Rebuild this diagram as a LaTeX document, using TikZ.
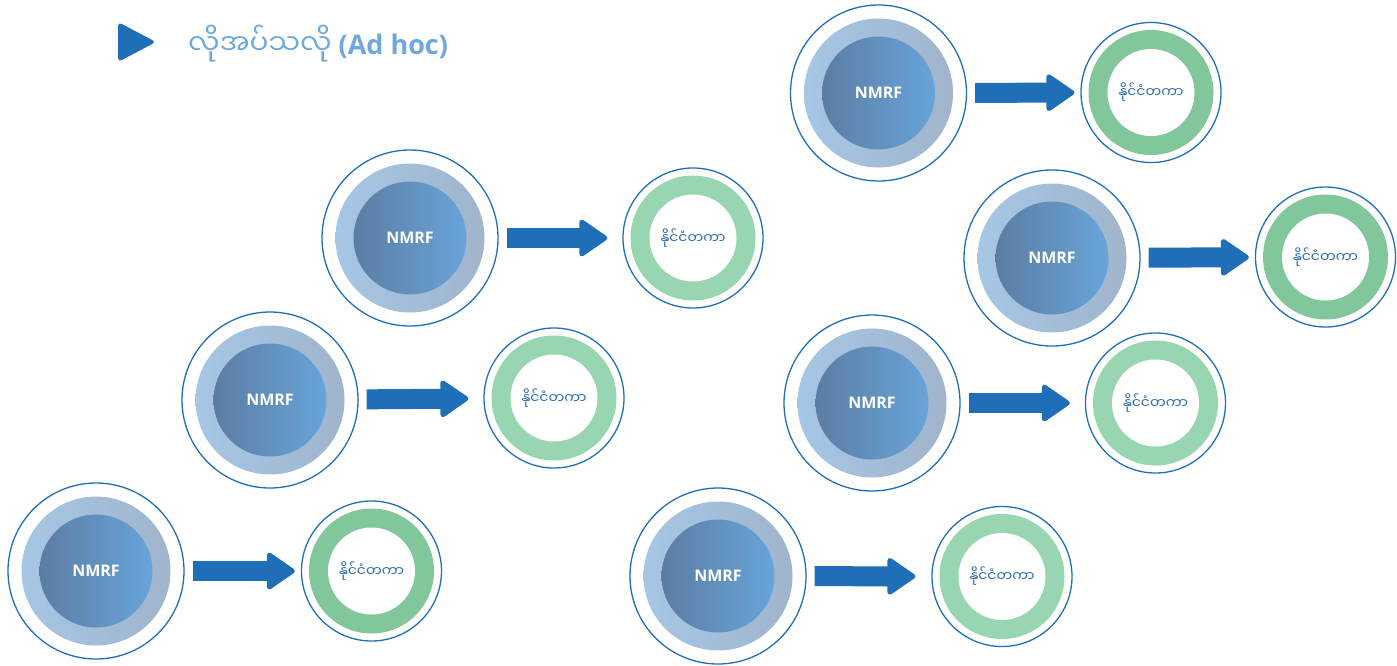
\documentclass[tikz,border=0pt]{standalone}
\usepackage{fontspec}
\setmainfont{Open Sans}
\newfontfamily\mmfont[Script=Myanmar]{Noto Sans Myanmar UI}
\usetikzlibrary{arrows.meta}
\definecolor{edgeblue}{HTML}{1F6FB8}
\definecolor{ringL}{HTML}{A6C8E8}
\definecolor{ringR}{HTML}{A0B3C9}
\definecolor{coreL}{HTML}{5C7DA3}
\definecolor{coreR}{HTML}{68A4DA}
\definecolor{greenD}{HTML}{82C79B}
\definecolor{greenL}{HTML}{98D6B2}
\definecolor{headblue}{HTML}{6FA8DC}
\definecolor{labelblue}{HTML}{2B6DB0}
\begin{document}
\begin{tikzpicture}[x=1pt,y=-1pt,
  nmrf/.style={circle, draw=edgeblue, line width=1.3pt, minimum size=176pt, inner sep=0pt,
    text=white, font=\fontsize{16}{16}\selectfont\bfseries,
    path picture={
      \shade[left color=ringL, right color=ringR] (path picture bounding box.center) circle (74.5pt);
      \shade[left color=coreL, right color=coreR] (path picture bounding box.center) circle (56.5pt);}},
  intl/.style={circle, draw=edgeblue, line width=1.3pt, minimum size=140pt, inner sep=0pt,
    text=labelblue, font=\mmfont\fontsize{14}{14}\selectfont,
    path picture={
      \fill[#1] (path picture bounding box.center) circle (62.5pt);
      \fill[white] (path picture bounding box.center) circle (43.5pt);}},
  flow/.style={draw=edgeblue, line width=20pt, shorten <=8pt,
    -{Triangle[length=30pt 0 0, width=40pt 0 0, line width=5pt 0 0, round]}}]
\useasboundingbox (0,0) rectangle (1397,665);

% heading
\fill[edgeblue, rounded corners=4pt] (118,22) -- (156,42) -- (118,62) -- cycle;
\node[anchor=west, inner sep=0pt, text=headblue, font=\fontsize{27}{27}\selectfont] (head) at (188,44)
  {{\mmfont\fontsize{28}{28}\selectfont လိုအပ်သလို} \bfseries (Ad hoc)};

% NMRF -> international
\foreach \i/\x/\y/\gx/\gy/\gc/\gap in {
    1/878.5/93/1151/92.5/greenD/6,
    2/410/238/693/238/greenL/15,
    3/270/400/554/398/greenL/15,
    4/96/571/371.5/571/greenD/6,
    5/1052/258/1325.5/257/greenD/6,
    6/872/403/1155.5/403/greenL/15,
    7/718/576/1002/576.5/greenL/16} {
  \node[nmrf] (n\i) at (\x,\y) {NMRF};
  \node[intl=\gc] (g\i) at (\gx,\gy) {နိုင်ငံတကာ};
  \draw[flow, shorten >=\gap pt] (n\i) -- (g\i);
}
\end{tikzpicture}
\end{document}
